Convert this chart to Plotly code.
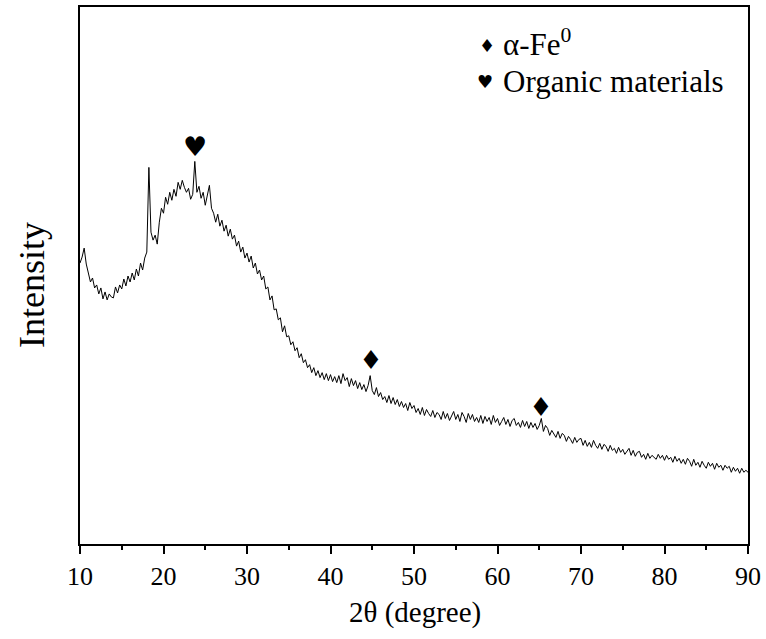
import plotly.graph_objects as go

# 2-theta sampling grid: 10 to 90 degrees, 0.25 degree step
two_theta = [10 + 0.25 * i for i in range(321)]

# intensity (arb. units), one row per degree (x = d, d+.25, d+.5, d+.75)
intensity = [
    281, 287, 296, 280,   # 10
    271, 262, 266, 256,   # 11
    259, 250, 256, 245,   # 12
    252, 244, 250, 247,   # 13
    246, 257, 251, 259,   # 14
    255, 265, 258, 268,   # 15
    262, 271, 264, 275,   # 16
    268, 281, 274, 286,   # 17
    292, 377, 312, 304,   # 18
    309, 300, 322, 336,   # 19
    331, 347, 340, 352,   # 20
    344, 355, 348, 362,   # 21
    355, 364, 357, 352,   # 22
    356, 345, 350, 383,   # 23
    352, 358, 346, 352,   # 24
    339, 348, 359, 336,   # 25
    331, 322, 330, 318,   # 26
    324, 313, 319, 308,   # 27
    315, 305, 309, 298,   # 28
    303, 292, 297, 286,   # 29
    291, 282, 288, 276,   # 30
    281, 270, 274, 264,   # 31
    268, 255, 257, 244,   # 32
    248, 234, 235, 224,   # 33
    226, 212, 218, 207,   # 34
    208, 199, 202, 193,   # 35
    196, 186, 190, 181,   # 36
    184, 176, 179, 171,   # 37
    176, 168, 173, 166,   # 38
    171, 164, 170, 163,   # 39
    169, 162, 167, 161,   # 40
    168, 160, 170, 163,   # 41
    166, 157, 165, 158,   # 42
    163, 155, 161, 154,   # 43
    159, 152, 158, 168,   # 44
    153, 149, 156, 147,   # 45
    151, 144, 147, 141,   # 46
    148, 140, 146, 139,   # 47
    144, 137, 142, 136,   # 48
    140, 133, 141, 135,   # 49
    138, 131, 135, 129,   # 50
    136, 128, 134, 130,   # 51
    127, 133, 126, 131,   # 52
    129, 124, 132, 125,   # 53
    130, 123, 128, 132,   # 54
    124, 129, 122, 131,   # 55
    127, 121, 130, 124,   # 56
    129, 122, 126, 121,   # 57
    128, 120, 127, 122,   # 58
    126, 119, 128, 121,   # 59
    125, 118, 122, 126,   # 60
    119, 124, 117, 123,   # 61
    125, 118, 121, 116,   # 62
    123, 117, 122, 115,   # 63
    121, 116, 120, 114,   # 64
    118, 125, 112, 118,   # 65
    115, 108, 113, 110,   # 66
    106, 112, 105, 110,   # 67
    108, 102, 107, 104,   # 68
    100, 106, 101, 104,   # 69
    105, 98, 103, 97,     # 70
    101, 96, 103, 98,     # 71
    95, 100, 94, 99,      # 72
    97, 92, 98, 93,       # 73
    95, 90, 96, 91,       # 74
    94, 89, 92, 95,       # 75
    88, 93, 87, 91,       # 76
    92, 86, 89, 84,       # 77
    90, 85, 88, 86,       # 78
    84, 89, 85, 88,       # 79
    83, 88, 84, 86,       # 80
    81, 87, 82, 85,       # 81
    80, 84, 79, 85,       # 82
    82, 77, 84, 78,       # 83
    81, 76, 82, 78,       # 84
    75, 81, 77, 80,       # 85
    74, 80, 76, 78,       # 86
    73, 78, 75, 77,       # 87
    71, 76, 72, 75,       # 88
    70, 75, 71, 73,       # 89
    71,                   # 90
]

fe_peak_x = [44.85, 65.2]
fe_peak_y = [181, 134]
organic_peak_x = [23.8]
organic_peak_y = [395]

x_ticks = [10, 20, 30, 40, 50, 60, 70, 80, 90]

serif = "Times New Roman, Liberation Serif, serif"
glyph = "DejaVu Sans"

fig = go.Figure()
fig.add_trace(go.Scatter(x=two_theta, y=intensity, mode="lines",
                         line=dict(color="black", width=1), showlegend=False))
fig.add_trace(go.Scatter(x=fe_peak_x, y=fe_peak_y, mode="text", text=["♦"] * len(fe_peak_x),
                         textfont=dict(family=glyph, size=26, color="black"),
                         textposition="middle center", showlegend=False))
fig.add_trace(go.Scatter(x=organic_peak_x, y=organic_peak_y, mode="text", text=["♥"] * len(organic_peak_x),
                         textfont=dict(family=glyph, size=27, color="black"),
                         textposition="middle center", showlegend=False))

fig.update_layout(
    width=766, height=639,
    margin=dict(l=80, r=18, t=5, b=95),
    paper_bgcolor="white", plot_bgcolor="white",
    font=dict(family=serif, color="black"),
    xaxis=dict(range=[10, 90], tickvals=x_ticks, ticktext=[str(v) for v in x_ticks],
               showline=True, linecolor="black", linewidth=2, mirror=True,
               ticks="outside", ticklen=8, tickwidth=1.5, tickcolor="black",
               minor=dict(ticks="outside", ticklen=4, tickwidth=1.5, tickcolor="black", dtick=5, showgrid=False),
               showgrid=False, zeroline=False, tickfont=dict(family=serif, size=26, color="black")),
    yaxis=dict(range=[-1, 538], showline=True, linecolor="black", linewidth=2, mirror=True,
               showticklabels=False, ticks="", showgrid=False, zeroline=False),
    annotations=[
        dict(text="2θ (degree)", xref="paper", yref="paper", x=0.5015, y=-0.128,
             xanchor="center", yanchor="middle", showarrow=False, font=dict(family=serif, size=29)),
        dict(text="Intensity", xref="paper", yref="paper", x=-0.072, y=0.482, textangle=-90,
             xanchor="center", yanchor="middle", showarrow=False, font=dict(family=serif, size=36)),
        dict(text="♦", xref="paper", yref="paper", x=0.609, y=0.929, xanchor="center", yanchor="middle",
             showarrow=False, font=dict(family=glyph, size=18)),
        dict(text="α-Fe<sup>0</sup>", xref="paper", yref="paper", x=0.630, y=0.934, xanchor="left",
             yanchor="middle", showarrow=False, font=dict(family=serif, size=31)),
        dict(text="♥", xref="paper", yref="paper", x=0.607, y=0.861, xanchor="center", yanchor="middle",
             showarrow=False, font=dict(family=glyph, size=18)),
        dict(text="Organic materials", xref="paper", yref="paper", x=0.630, y=0.861, xanchor="left",
             yanchor="middle", showarrow=False, font=dict(family=serif, size=31)),
    ],
)

fig.write_html("out.html", config={"displayModeBar": False},
               post_script="document.body.style.margin='0';")
